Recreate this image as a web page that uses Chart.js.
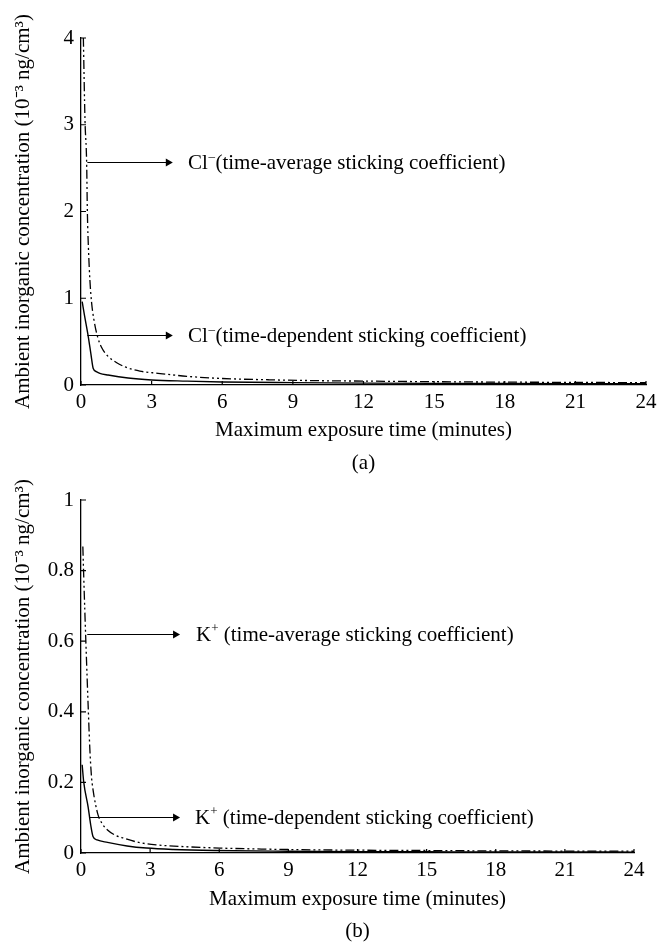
<!DOCTYPE html>
<html>
<head>
<meta charset="utf-8">
<script src="https://cdn.jsdelivr.net/npm/chart.js@4.4.0/dist/chart.umd.min.js"></script>
<style>
body { margin: 0; background: #fff; overflow: hidden; }
canvas { position: absolute; left: 0; }
#chartA { top: 0; }
#chartB { top: 480px; }
</style>
</head>
<body>
<canvas id="chartA" width="662" height="480"></canvas>
<canvas id="chartB" width="662" height="467"></canvas>
<script>

// (a) Cl- : time-average sticking coefficient (dash-dot line)
var clAvgTime  = [0.10, 0.17, 0.24, 0.27, 0.32, 0.38, 0.45, 0.55, 0.70, 0.90, 1.15, 1.50, 1.86, 2.5, 3.27, 4.5, 6, 8, 10, 12, 15, 18, 21, 24];
var clAvgValue = [4.00, 3.05, 2.56, 2.00, 1.55, 1.20, 0.95, 0.75, 0.56, 0.42, 0.33, 0.26, 0.21, 0.16, 0.135, 0.10, 0.075, 0.06, 0.05, 0.045, 0.038, 0.033, 0.03, 0.027];
// (a) Cl- : time-dependent sticking coefficient (solid line)
var clDepTime  = [0.05, 0.15, 0.31, 0.42, 0.52, 0.65, 0.80, 1.15, 2, 3, 4.5, 6, 9, 12, 15, 18, 21, 24];
var clDepValue = [0.96, 0.80, 0.556, 0.36, 0.19, 0.155, 0.135, 0.115, 0.08, 0.058, 0.045, 0.035, 0.027, 0.022, 0.019, 0.017, 0.015, 0.014];

// (b) K+ : time-average
var kAvgTime  = [0.08, 0.12, 0.21, 0.32, 0.38, 0.45, 0.52, 0.73, 0.90, 1.15, 1.5, 1.86, 2.5, 3.27, 4.5, 6, 8, 10, 12, 15, 18, 21, 24];
var kAvgValue = [0.868, 0.78, 0.60, 0.40, 0.30, 0.22, 0.18, 0.11, 0.085, 0.065, 0.05, 0.042, 0.03, 0.023, 0.018, 0.014, 0.011, 0.009, 0.008, 0.007, 0.006, 0.0055, 0.005];
// (b) K+ : time-dependent
var kDepTime  = [0.05, 0.12, 0.31, 0.42, 0.52, 0.70, 1.15, 2, 2.84, 4, 5.8, 9, 12, 15, 18, 21, 24];
var kDepValue = [0.25, 0.20, 0.13, 0.08, 0.047, 0.037, 0.03, 0.02, 0.014, 0.01, 0.007, 0.005, 0.004, 0.0035, 0.003, 0.003, 0.0025];

var xTicks  = [0, 3, 6, 9, 12, 15, 18, 21, 24];
var yTicksA = [0, 1, 2, 3, 4];
var yTicksB = [0, 0.2, 0.4, 0.6, 0.8, 1];

var xTitle = 'Maximum exposure time (minutes)';
var yTitle = 'Ambient inorganic concentration (10\u207B\u00B3 ng/cm\u00B3)';

// label pieces: [base, superscript, rest]
var notesA = [
    { y: 2.567, from: 0.27, to: 3.9, textAt: 4.55, text: ['Cl', '\u2012', '(time-average sticking coefficient)'] },
    { y: 0.576, from: 0.27, to: 3.9, textAt: 4.55, text: ['Cl', '\u2012', '(time-dependent sticking coefficient)'] }
];
var notesB = [
    { y: 0.621, from: 0.27, to: 4.3, textAt: 4.99, text: ['K', '+', ' (time-average sticking coefficient)'] },
    { y: 0.103, from: 0.35, to: 4.3, textAt: 4.95, text: ['K', '+', ' (time-dependent sticking coefficient)'] }
];

var FONT = "'Liberation Serif', 'Times New Roman', serif";
Chart.defaults.font.family = FONT;
Chart.defaults.font.size = 21;
Chart.defaults.color = '#000';

function toPoints(xs, ys) {
    return xs.map(function (x, i) { return { x: x, y: ys[i] }; });
}

// small ticks pointing into the plot
var innerTicks = {
    id: 'innerTicks',
    afterDatasetsDraw: function (chart) {
        var ctx = chart.ctx, a = chart.chartArea, xs = chart.scales.x, ys = chart.scales.y;
        ctx.save();
        ctx.strokeStyle = '#000';
        ctx.lineWidth = 1.2;
        ctx.beginPath();
        xs.ticks.forEach(function (t) {
            var px = xs.getPixelForValue(t.value);
            ctx.moveTo(px, a.bottom);
            ctx.lineTo(px, a.bottom - 4);
        });
        ys.ticks.forEach(function (t) {
            var py = ys.getPixelForValue(t.value);
            ctx.moveTo(a.left - 1, py);
            ctx.lineTo(a.left + 5, py);
        });
        ctx.stroke();
        ctx.restore();
    }
};

// arrows with labels
function notePlugin(items) {
    return {
        id: 'notes',
        afterDatasetsDraw: function (chart) {
            var ctx = chart.ctx, xs = chart.scales.x, ys = chart.scales.y;
            ctx.save();
            ctx.strokeStyle = '#000';
            ctx.fillStyle = '#000';
            ctx.lineWidth = 1.2;
            ctx.textBaseline = 'middle';
            items.forEach(function (n) {
                var y = Math.round(ys.getPixelForValue(n.y)) + 0.5;
                var x0 = xs.getPixelForValue(n.from), x1 = xs.getPixelForValue(n.to);
                ctx.beginPath();
                ctx.moveTo(x0, y);
                ctx.lineTo(x1 - 5, y);
                ctx.stroke();
                ctx.beginPath();
                ctx.moveTo(x1, y);
                ctx.lineTo(x1 - 7, y - 4);
                ctx.lineTo(x1 - 7, y + 4);
                ctx.closePath();
                ctx.fill();

                var tx = xs.getPixelForValue(n.textAt);
                ctx.font = '21px ' + FONT;
                ctx.fillText(n.text[0], tx, y + 1);
                tx += ctx.measureText(n.text[0]).width;
                ctx.font = '13px ' + FONT;
                ctx.fillText(n.text[1], tx + (n.text[1] === '+' ? 0 : 0.5), y - 6);
                tx += ctx.measureText(n.text[1]).width + (n.text[1] === '+' ? 0 : 1);
                ctx.font = '21px ' + FONT;
                ctx.fillText(n.text[2], tx, y + 1);
            });
            ctx.restore();
        }
    };
}

function makeChart(id, o) {
    var canvas = document.getElementById(id);
    var H = canvas.height;
    return new Chart(canvas, {
        type: 'line',
        data: {
            datasets: [{
                data: toPoints(o.avgT, o.avgV),
                borderColor: '#000',
                borderWidth: 1.3,
                borderDash: [9, 3, 2, 3, 2, 3],
                pointRadius: 0,
                cubicInterpolationMode: 'monotone',
                fill: false
            }, {
                data: toPoints(o.depT, o.depV),
                borderColor: '#000',
                borderWidth: 1.4,
                pointRadius: 0,
                cubicInterpolationMode: 'monotone',
                fill: false
            }]
        },
        options: {
            responsive: false,
            animation: false,
            events: [],
            layout: { padding: { left: 0, right: 662 - o.right, top: o.top, bottom: 0 } },
            plugins: { legend: { display: false }, tooltip: { enabled: false } },
            scales: {
                x: {
                    type: 'linear',
                    min: 0,
                    max: 24,
                    afterBuildTicks: function (s) { s.ticks = xTicks.map(function (v) { return { value: v }; }); },
                    afterFit: function (s) { s.height = H - o.bottom; },
                    grid: { display: false, drawTicks: false },
                    border: { color: '#000', width: 1.3 },
                    ticks: { padding: 5, maxRotation: 0, autoSkip: false, color: '#000' },
                    title: {
                        display: true,
                        text: [xTitle, o.tag],
                        color: '#000',
                        font: { size: 21, lineHeight: o.titleLine },
                        padding: { top: 0, bottom: o.titlePad }
                    }
                },
                y: {
                    type: 'linear',
                    min: o.yTicks[0],
                    max: o.yTicks[o.yTicks.length - 1],
                    afterBuildTicks: function (s) { s.ticks = o.yTicks.map(function (v) { return { value: v }; }); },
                    afterFit: function (s) { s.width = 81; },
                    grid: { display: false, drawTicks: false },
                    border: { color: '#000', width: 1.3 },
                    ticks: { padding: 7, color: '#000', callback: function (v) { return String(v); } },
                    title: {
                        display: true,
                        text: yTitle,
                        color: '#000',
                        font: { size: 21, lineHeight: 1.2 },
                        padding: { top: 11, bottom: 0 }
                    }
                }
            }
        },
        plugins: [innerTicks, notePlugin(o.notes)]
    });
}

var chartA = makeChart('chartA', {
    avgT: clAvgTime, avgV: clAvgValue, depT: clDepTime, depV: clDepValue,
    yTicks: yTicksA, notes: notesA, tag: '(a)',
    top: 38, bottom: 385, right: 646, titleLine: 33 / 21, titlePad: 0.5
});

var chartB = makeChart('chartB', {
    avgT: kAvgTime, avgV: kAvgValue, depT: kDepTime, depV: kDepValue,
    yTicks: yTicksB, notes: notesB, tag: '(b)',
    top: 20, bottom: 373, right: 634, titleLine: 32 / 21, titlePad: 0
});
</script>
</body>
</html>
